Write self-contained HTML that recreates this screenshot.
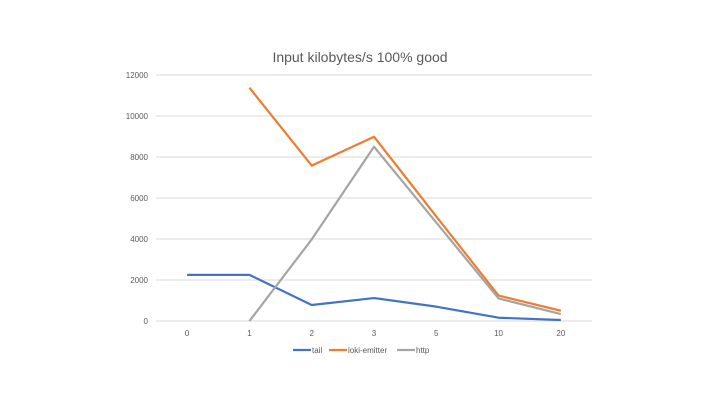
<!DOCTYPE html>
<html><head><meta charset="utf-8"><style>
body{margin:0;background:#fff;font-family:"Liberation Sans",sans-serif}
svg text{font-family:"Liberation Sans",sans-serif}
</style></head><body>
<svg id="chart" width="720" height="405">
<text x="360" y="62" text-anchor="middle" font-size="14" fill="#595959">Input kilobytes/s 100% good</text>
<g id="grid"></g><g id="series"></g><g id="legend"></g>
</svg>
<script>
const categories=["0","1","2","3","5","10","20"];
const yTicks=[0,2000,4000,6000,8000,10000,12000];
const tailValues=[2250,2250,780,1120,700,160,50];
const lokiValues=[null,11380,7580,8990,5100,1240,500];
const httpValues=[null,0,3980,8500,4800,1100,340];
const seriesNames=["tail","loki-emitter","http"];
const seriesColors=["#4472c4","#ed7d31","#a5a5a5"];
const L=156,R=592,T=75,B=321,ymax=12000;
const step=(R-L)/categories.length;
const xs=i=>L+step*(i+0.5);
const ys=v=>B-(v/ymax)*(B-T);
const NS="http://www.w3.org/2000/svg";
function mk(t,a,p){const e=document.createElementNS(NS,t);for(const k in a)e.setAttribute(k,a[k]);p.appendChild(e);return e;}
const g=document.getElementById('grid');
yTicks.forEach(v=>{
 const l=mk('line',{x1:L,x2:R,y1:ys(v),y2:ys(v),stroke:'#d9d9d9','stroke-width':1},g);
 
 
 const t=mk('text',{x:L-8,y:ys(v)+3,'text-anchor':'end','font-size':8,fill:'#595959'},g);
 t.textContent=v;
 
 
});
categories.forEach((c,i)=>{
 const t=mk('text',{x:xs(i),y:B+15,'text-anchor':'middle','font-size':8,fill:'#595959'},g);
 t.textContent=c;
 
 
});
const s=document.getElementById('series');
[tailValues,lokiValues,httpValues].forEach((vals,k)=>{
 let d='';let started=false;
 vals.forEach((v,i)=>{if(v===null)return;d+=(started?'L':'M')+xs(i)+','+ys(v);started=true;});
 const p=mk('path',{d:d,fill:'none',stroke:seriesColors[k],'stroke-width':2.2,'stroke-linejoin':'round'},s);
 
 
});
const lg=document.getElementById('legend');
const lx=[293,329,397];
seriesNames.forEach((n,k)=>{
 const grp=mk('g',{},lg);
 
 
 mk('line',{x1:lx[k],x2:lx[k]+18,y1:350,y2:350,stroke:seriesColors[k],'stroke-width':2.2},grp);
 const t=mk('text',{x:lx[k]+19,y:353,'font-size':8,fill:'#595959'},grp);
 t.textContent=n;
});
</script>
</body></html>
